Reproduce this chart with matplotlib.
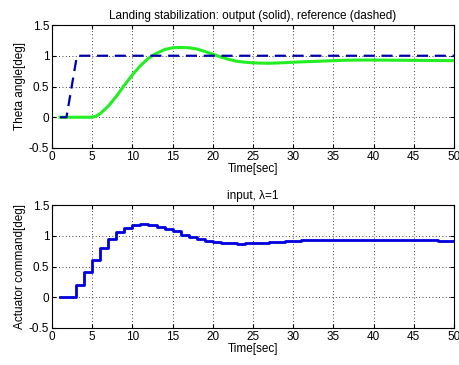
import matplotlib
matplotlib.use("Agg")
import matplotlib.pyplot as plt
import numpy as np

# Reference (dashed)
ref_t = [1, 1.8, 3.1, 50]
ref_y = [0, 0, 1, 1]

# Output (solid green)
out_t = [1, 2, 3, 4, 5, 5.5, 6, 7, 8, 9, 10, 11, 12, 13, 14, 15, 16, 17, 18, 19, 20, 21,
         22, 23, 24, 25, 26, 27, 28, 29, 30, 32, 34, 36, 38, 40, 42, 45, 48, 50]
out_y = [0, 0, 0, 0, 0, 0.02, 0.06, 0.18, 0.34, 0.52, 0.69, 0.84, 0.96, 1.04, 1.10, 1.13,
         1.135, 1.13, 1.11, 1.07, 1.025, 0.98, 0.94, 0.91, 0.895, 0.885, 0.88, 0.878, 0.882,
         0.888, 0.895, 0.905, 0.915, 0.925, 0.93, 0.93, 0.928, 0.925, 0.922, 0.92]

# Actuator input (staircase, held each second)
in_t = list(range(1, 51))
in_y = [0, 0, 0.2, 0.41, 0.6, 0.8, 0.95, 1.06, 1.13, 1.17,
        1.19, 1.18, 1.15, 1.11, 1.07, 1.02, 0.98, 0.95, 0.92, 0.895,
        0.88, 0.875, 0.87, 0.875, 0.88, 0.89, 0.9, 0.905, 0.915, 0.92,
        0.925, 0.93, 0.935, 0.935, 0.935, 0.935, 0.935, 0.933, 0.932, 0.93,
        0.93, 0.928, 0.927, 0.926, 0.925, 0.924, 0.923, 0.922, 0.921, 0.92]

xticks = [0, 5, 10, 15, 20, 25, 30, 35, 40, 45, 50]
yticks = [-0.5, 0, 0.5, 1, 1.5]

plt.rcParams['font.family'] = ['Liberation Sans', 'DejaVu Sans']
plt.rcParams['font.size'] = 8.5

fig = plt.figure(figsize=(4.59, 3.65), dpi=100)
W, H = 459, 365
ax1 = fig.add_axes([52 / W, 1 - 148 / H, (454 - 52) / W, (148 - 25) / H])
ax2 = fig.add_axes([52 / W, 1 - 328 / H, (454 - 52) / W, (328 - 205) / H])

ax1.plot(out_t, out_y, color='#22ee22', lw=2.2, zorder=3)
ax1.plot(ref_t, ref_y, color='#0000aa', lw=1.6, ls=(0, (5, 3)), zorder=4)
ax1.set_title('Landing stabilization: output (solid), reference (dashed)', fontsize=8.5, pad=4)
ax1.set_ylabel('Theta angle[deg]', labelpad=2)

ax2.step(in_t, in_y, where='post', color='#0000dd', lw=2, zorder=3)
ax2.set_title('input, λ=1', fontsize=8.5, pad=4)
ax2.set_ylabel('Actuator command[deg]', labelpad=2)

for ax in (ax1, ax2):
    ax.set_xlim(0, 50)
    ax.set_ylim(-0.5, 1.5)
    ax.set_xticks(xticks)
    ax.set_yticks(yticks)
    ax.set_xticklabels([str(v) for v in xticks])
    ax.set_yticklabels(['-0.5', '0', '0.5', '1', '1.5'])
    ax.grid(True, color='black', ls=(0, (1, 3)), lw=0.6)
    ax.tick_params(direction='in', length=3, top=True, right=True, labelsize=8.5, pad=2)
    ax.set_xlabel('Time[sec]', labelpad=0)
    for s in ax.spines.values():
        s.set_linewidth(0.8)

fig.savefig('out.png', dpi=100)
